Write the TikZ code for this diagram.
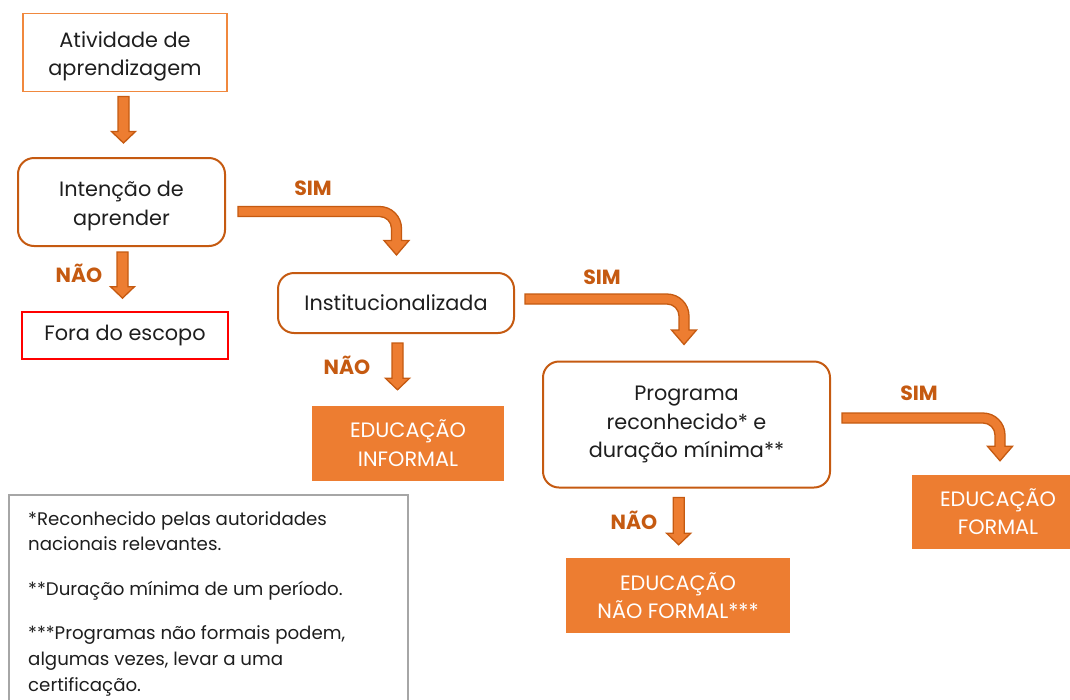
\documentclass[tikz,border=0pt]{standalone}
\usepackage{fontspec}
\setmainfont{Poppins}
\usetikzlibrary{calc}

\definecolor{accent}{HTML}{ED7D31}
\definecolor{accentdark}{HTML}{C55A11}
\definecolor{lightline}{HTML}{F0883E}
\definecolor{notegrey}{HTML}{A6A6A6}
\definecolor{ink}{HTML}{1E1E1E}

% straight block arrow pointing down: #1 = top of shaft, #2 = tip
\newcommand\blockdown[2]{%
  \filldraw[blockarrow] let \p1=(#1), \p2=(#2) in
    (\x1-5.5pt,\y1) -- (\x1+5.5pt,\y1) -- (\x1+5.5pt,\y2+11.5pt)
    -- (\x1+12pt,\y2+11.5pt) -- (\x1,\y2) -- (\x1-12pt,\y2+11.5pt)
    -- (\x1-5.5pt,\y2+11.5pt) -- cycle;}

% bent block arrow: horizontal shaft from #1 (left end, centre line), turning down to tip #2
\newcommand\blockturn[2]{%
  \filldraw[blockarrow] let \p1=(#1), \p2=(#2) in
    (\x1,\y1+5pt) -- (\x2-17pt,\y1+5pt)
    arc[start angle=90,end angle=0,radius=22pt]
    -- (\x2+5pt,\y2+14.5pt) -- (\x2+12.5pt,\y2+14.5pt) -- (\x2,\y2)
    -- (\x2-12.5pt,\y2+14.5pt) -- (\x2-5pt,\y2+14.5pt) -- (\x2-5pt,\y1-17pt)
    arc[start angle=0,end angle=90,radius=12pt]
    -- (\x1,\y1-5pt) -- cycle;}

% two centred lines, drawn a little lower than the box centre
\newcommand\twolines[2]{\raisebox{-3.5pt}[\height][\depth]{\begin{tabular}{@{}c@{}}#1\\#2\end{tabular}}}

\tikzset{
  boxtext/.style={font=\fontsize{20.8}{28.5}\selectfont, text=ink, align=center, inner sep=0pt},
  plainbox/.style={boxtext, rectangle, draw=lightline, line width=1.9pt},
  roundbox/.style={boxtext, rectangle, draw=accentdark, line width=2pt, rounded corners=16pt},
  outbox/.style={boxtext, rectangle, draw=red, line width=1.7pt},
  resultbox/.style={boxtext, rectangle, fill=accent, text=white},
  answer/.style={font=\fontsize{20.5}{22}\selectfont\bfseries, text=accentdark, inner sep=0pt},
  blockarrow/.style={fill=accent, draw=accentdark, line width=1.3pt, line join=miter},
  notetext/.style={font=\fontsize{18.2}{25.6}\selectfont, text=ink, align=left, inner sep=0pt},
}

\begin{document}
\begin{tikzpicture}[x=1pt,y=-1pt]
\useasboundingbox (0,0) rectangle (1070,699);

% decision and start boxes
\node[plainbox, minimum width=204, minimum height=78] (act) at (125,52.5) {\twolines{Atividade de}{aprendizagem}};
\node[roundbox, minimum width=207, minimum height=88] (intent) at (121.5,202) {\twolines{Intenção de}{aprender}};
\node[outbox, minimum width=206, minimum height=47] (out) at (125,335.5) {Fora do escopo};
\node[roundbox, minimum width=236, minimum height=60] (inst) at (396,303) {Institucionalizada};
\node[roundbox, minimum width=287, minimum height=126] (prog) at (686.5,424.5) {Programa\\reconhecido* e\\duração mínima**};

% outcome boxes
\node[resultbox, minimum width=192, minimum height=75] (informal) at (408,443) {EDUCAÇÃO\\INFORMAL};
\node[resultbox, minimum width=224, minimum height=75] (nonformal) at (678,595.5) {EDUCAÇÃO\\NÃO FORMAL***};
\node[resultbox, minimum width=172, minimum height=74] (formal) at (998,511.5) {EDUCAÇÃO\\FORMAL};

% arrow end points
\coordinate (a1s) at ($(act.south)+(-1.5,4)$);
\coordinate (a1e) at ($(intent.north)+(2,-14)$);
\coordinate (n1s) at ($(intent.south)+(1,5)$);
\coordinate (n1e) at ($(out.north)+(-2.5,-13)$);
\coordinate (s1s) at ($(intent.east)+(12,9.5)$);
\coordinate (s1e) at ($(inst.north)+(0.5,-17)$);
\coordinate (n2s) at ($(inst.south)+(1.5,9)$);
\coordinate (n2e) at ($(informal.north)+(-10.5,-15.5)$);
\coordinate (s2s) at ($(inst.east)+(10,-4)$);
\coordinate (s2e) at ($(prog.north)+(-2.5,-16)$);
\coordinate (n3s) at ($(prog.south)+(-7.8,9)$);
\coordinate (n3e) at ($(nonformal.north)+(0.7,-13)$);
\coordinate (s3s) at ($(prog.east)+(11,-6.5)$);
\coordinate (s3e) at ($(formal.north)+(2,-13.5)$);

% block arrows
\blockdown{a1s}{a1e}
\blockdown{n1s}{n1e}
\blockdown{n2s}{n2e}
\blockdown{n3s}{n3e}
\blockturn{s1s}{s1e}
\blockturn{s2s}{s2e}
\blockturn{s3s}{s3e}

% answers
\node[answer] (sim1) at (313,188) {SIM};
\node[answer] (nao1) at (79,273) {NÃO};
\node[answer] (sim2) at (602,277) {SIM};
\node[answer] (nao2) at (347,365) {NÃO};
\node[answer] (sim3) at (919,393) {SIM};
\node[answer] (nao3) at (634,520) {NÃO};

% footnotes
\draw[notegrey, line width=1.6pt] (9,712) -- (9,495) -- (408,495) -- (408,712);
\node[notetext, anchor=north west] (notes) at (28,511)
  {*Reconhecido pelas autoridades\\nacionais relevantes.\\[19pt]**Duração mínima de um período.\\[19pt]***Programas não formais podem,\\algumas vezes, levar a uma\\certificação.};
\end{tikzpicture}
\end{document}
